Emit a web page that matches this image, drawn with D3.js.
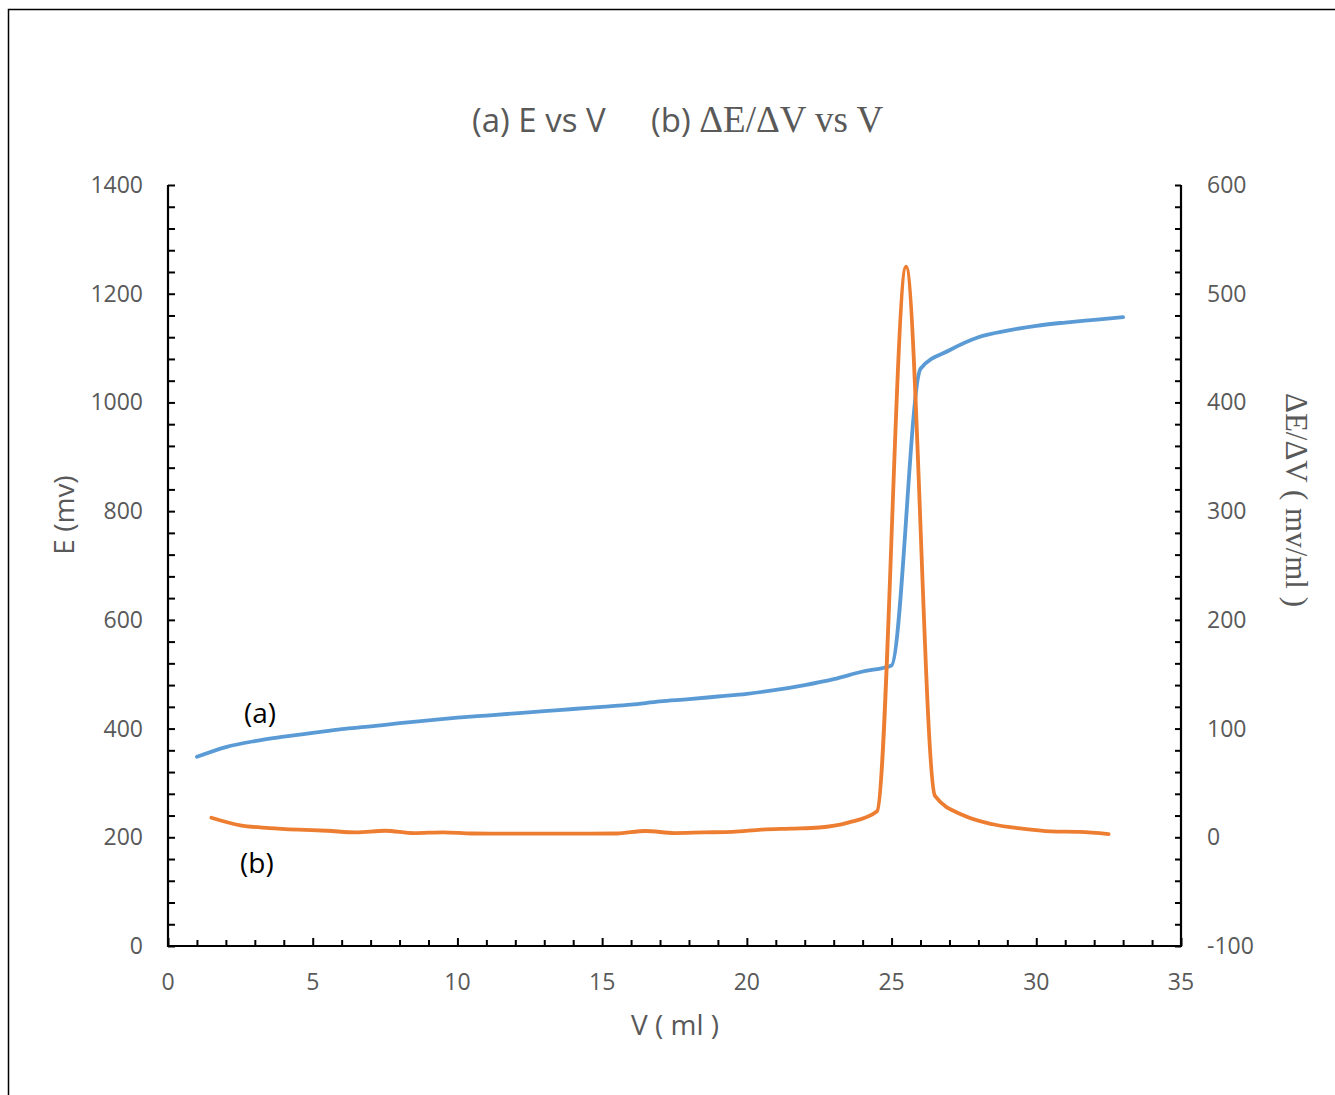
<!DOCTYPE html>
<html>
<head>
<meta charset="utf-8">
<script src="https://cdn.jsdelivr.net/npm/d3@7"></script>
<style>
  html, body { margin: 0; padding: 0; background: #fff; }
  #chart { width: 1335px; height: 1095px; }
  .tick-label { font-family: 'Open Sans', 'Liberation Sans', sans-serif; font-size: 23px; fill: #595959; }
  .serif { font-family: 'Liberation Serif', 'DejaVu Serif', serif; }
</style>
</head>
<body>
<div id="chart"></div>
<script>
// (a) E vs V, volume in ml and potential in mv
const volumeE = [1, 2, 3, 4, 5, 6, 7, 8, 9, 10, 11, 12, 13, 14, 15, 16, 17, 18, 19, 20, 21, 22, 23, 24, 25, 26, 27, 28, 29, 30, 31, 32, 33]
const potentialE = [348, 366, 377, 385, 392, 399, 404, 410, 415, 420, 424, 428, 432, 436, 440, 444, 450, 454, 459, 464, 471, 480, 491, 505, 516, 1062, 1096, 1120, 1132, 1141, 1147, 1152, 1157]

// (b) dE/dV at mid volumes
const volumeD = [1.5, 2.5, 3.5, 4.5, 5.5, 6.5, 7.5, 8.5, 9.5, 10.5, 11.5, 12.5, 13.5, 14.5, 15.5, 16.5, 17.5, 18.5, 19.5, 20.5, 21.5, 22.5, 23.5, 24.5, 25.5, 26.5, 27.5, 28.5, 29.5, 30.5, 31.5, 32.5]
const derivD = [18, 11, 8.5, 7, 6, 4.5, 6, 3.8, 4.6, 3.5, 3.3, 3.3, 3.3, 3.3, 3.5, 5.8, 3.9, 4.5, 5, 7, 8, 9, 13.5, 24, 525, 38, 20, 12, 8, 5.5, 5, 3]

const xTicks = [0, 5, 10, 15, 20, 25, 30, 35]
const leftTicks = [0, 200, 400, 600, 800, 1000, 1200, 1400]
const rightTicks = [-100, 0, 100, 200, 300, 400, 500, 600]

const SIZE = Object.freeze({ WIDTH: 1335, HEIGHT: 1095, LEFT: 168, RIGHT: 1181, TOP: 185, BOTTOM: 946 })

const buildChart = () => {
  const svg = d3.select('#chart')
    .append('svg')
    .attr('width', SIZE.WIDTH)
    .attr('height', SIZE.HEIGHT)

  // outer chart border (only left and top are visible)
  svg.append('rect')
    .attr('x', 8.5).attr('y', 9.5)
    .attr('width', 1400).attr('height', 1200)
    .attr('fill', 'none')
    .attr('stroke', '#000')
    .attr('stroke-width', 1.5)

  const x = d3.scaleLinear().domain([0, 35]).range([SIZE.LEFT, SIZE.RIGHT])
  const yLeft = d3.scaleLinear().domain([0, 1400]).range([SIZE.BOTTOM, SIZE.TOP])
  const yRight = d3.scaleLinear().domain([-100, 600]).range([SIZE.BOTTOM, SIZE.TOP])

  // minor ticks drawn inside the plot
  const bottomAxis = d3.axisTop(x).tickValues(d3.range(0, 36, 1)).tickSize(6).tickFormat('')
  const leftAxis = d3.axisRight(yLeft).tickValues(d3.range(0, 1401, 40)).tickSize(7).tickFormat('')
  const rightAxis = d3.axisLeft(yRight).tickValues(d3.range(-100, 601, 20)).tickSize(6).tickFormat('')

  const styleAxis = g => {
    g.select('.domain').remove()
    g.selectAll('.tick line').attr('stroke', '#000').attr('stroke-width', 2)
  }

  svg.append('g').attr('transform', `translate(0,${SIZE.BOTTOM})`).call(bottomAxis).call(styleAxis)
    .selectAll('.tick line').attr('y2', d => d % 5 === 0 ? -8 : -6)
  svg.append('g').attr('transform', `translate(${SIZE.LEFT},0)`).call(leftAxis).call(styleAxis)
  svg.append('g').attr('transform', `translate(${SIZE.RIGHT},0)`).call(rightAxis).call(styleAxis)

  // axis lines
  const axisLines = svg.append('g').attr('stroke', '#000').attr('stroke-width', 2.2).attr('fill', 'none')
  axisLines.append('line').attr('x1', SIZE.LEFT).attr('x2', SIZE.LEFT).attr('y1', SIZE.TOP).attr('y2', SIZE.BOTTOM + 1)
  axisLines.append('line').attr('x1', SIZE.RIGHT).attr('x2', SIZE.RIGHT).attr('y1', SIZE.TOP).attr('y2', SIZE.BOTTOM + 1)
  axisLines.append('line').attr('x1', SIZE.LEFT - 1).attr('x2', SIZE.RIGHT + 1).attr('y1', SIZE.BOTTOM).attr('y2', SIZE.BOTTOM)

  // tick labels
  svg.append('g').selectAll('text')
    .data(xTicks).enter().append('text')
    .attr('class', 'tick-label')
    .attr('x', d => x(d))
    .attr('y', 982)
    .attr('dy', '0.35em')
    .attr('text-anchor', 'middle')
    .text(d => d)

  svg.append('g').selectAll('text')
    .data(leftTicks).enter().append('text')
    .attr('class', 'tick-label')
    .attr('x', 143)
    .attr('y', d => yLeft(d))
    .attr('dy', '0.35em')
    .attr('text-anchor', 'end')
    .text(d => d)

  svg.append('g').selectAll('text')
    .data(rightTicks).enter().append('text')
    .attr('class', 'tick-label')
    .attr('x', 1207)
    .attr('y', d => yRight(d))
    .attr('dy', '0.35em')
    .attr('text-anchor', 'start')
    .text(d => d)

  // title
  const title = svg.append('text')
    .attr('class', 'tick-label')
    .attr('y', 132)
    .style('font-size', '33px')
  title.append('tspan').attr('x', 472).text('(a) E vs V')
  title.append('tspan').attr('x', 651).text('(b) ')
  title.append('tspan').attr('class', 'serif').style('font-size', '37px').text('ΔE/ΔV vs V')

  // axis titles
  svg.append('text')
    .attr('class', 'tick-label')
    .attr('transform', 'translate(74,515) rotate(-90)')
    .attr('text-anchor', 'middle')
    .style('font-size', '28px')
    .text('E (mv)')

  svg.append('text')
    .attr('class', 'tick-label')
    .attr('x', 675)
    .attr('y', 1035)
    .attr('text-anchor', 'middle')
    .style('font-size', '28px')
    .text('V ( ml )')

  svg.append('text')
    .attr('class', 'tick-label serif')
    .attr('transform', 'translate(1286,500) rotate(90)')
    .attr('text-anchor', 'middle')
    .style('font-size', '31px')
    .text('ΔE/ΔV ( mv/ml )')

  // series
  const seriesA = volumeE.map((v, i) => [v, potentialE[i]])
  const seriesB = volumeD.map((v, i) => [v, derivD[i]])

  const lineA = d3.line().x(d => x(d[0])).y(d => yLeft(d[1])).curve(d3.curveMonotoneX)
  const lineB = d3.line().x(d => x(d[0])).y(d => yRight(d[1])).curve(d3.curveMonotoneX)

  svg.append('path')
    .datum(seriesA)
    .attr('d', lineA)
    .attr('fill', 'none')
    .attr('stroke', '#5B9BD5')
    .attr('stroke-width', 3.8)
    .attr('stroke-linecap', 'round')

  svg.append('path')
    .datum(seriesB)
    .attr('d', lineB)
    .attr('fill', 'none')
    .attr('stroke', '#ED7D31')
    .attr('stroke-width', 3.8)
    .attr('stroke-linecap', 'round')

  // series labels
  svg.append('text')
    .attr('x', 244).attr('y', 723)
    .style('font-family', "'Open Sans', 'Liberation Sans', sans-serif")
    .style('font-size', '28px')
    .attr('fill', '#000')
    .text('(a)')

  svg.append('text')
    .attr('x', 240).attr('y', 873)
    .style('font-family', "'Open Sans', 'Liberation Sans', sans-serif")
    .style('font-size', '28px')
    .attr('fill', '#000')
    .text('(b)')
}

document.addEventListener('DOMContentLoaded', () => {
  buildChart()
})
</script>
</body>
</html>
